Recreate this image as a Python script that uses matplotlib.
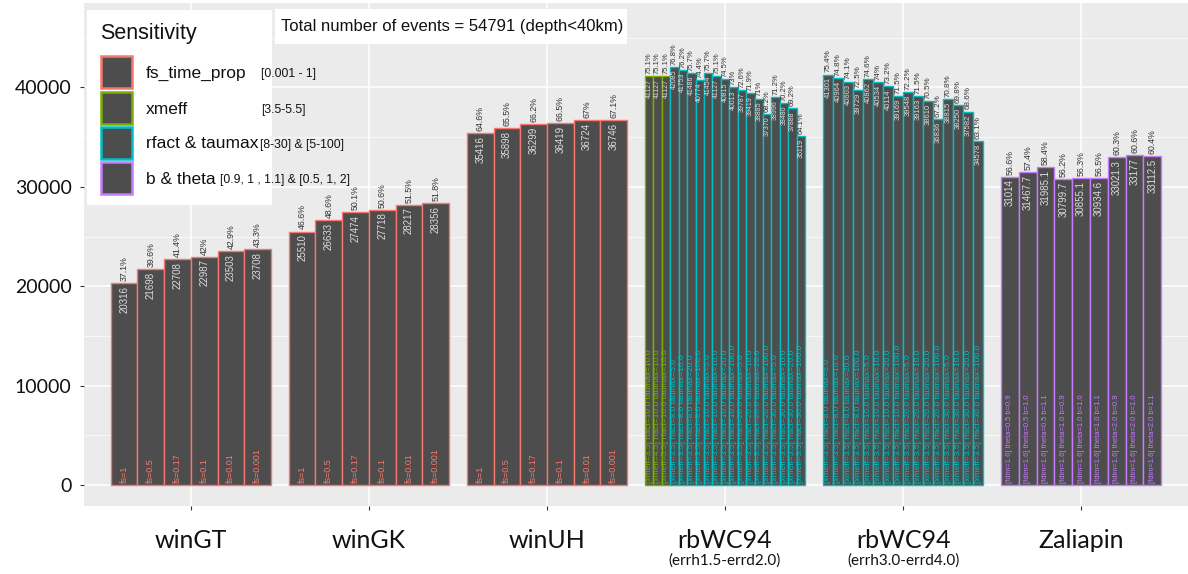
import matplotlib
matplotlib.use("Agg")
import matplotlib.pyplot as plt
from matplotlib.patches import Rectangle

TOTAL_EVENTS = 54791

group_names = ["winGT", "winGK", "winUH", "rbWC94", "rbWC94", "Zaliapin"]
group_notes = ["", "", "", "(errh1.5-errd2.0)", "(errh3.0-errd4.0)", ""]

fs_labels = ["fs=1", "fs=0.5", "fs=0.17", "fs=0.1", "fs=0.01", "fs=0.001"]
wingt_counts = [20316, 21698, 22708, 22987, 23503, 23708]
wingk_counts = [25510, 26633, 27474, 27718, 28217, 28356]
winuh_counts = [35416, 35898, 36299, 36419, 36724, 36746]

xmeff_labels = ["[xmeff=3.5] rfact=10.0 taumax=10.0",
                "[xmeff=4.5] rfact=10.0 taumax=10.0",
                "[xmeff=5.5] rfact=10.0 taumax=10.0"]
rfact_taumax_labels = ["[xmeff=3.5] rfact=8.0 taumax=5.0",
                       "[xmeff=3.5] rfact=8.0 taumax=10.0",
                       "[xmeff=3.5] rfact=8.0 taumax=20.0",
                       "[xmeff=3.5] rfact=8.0 taumax=100.0",
                       "[xmeff=3.5] rfact=10.0 taumax=5.0",
                       "[xmeff=3.5] rfact=10.0 taumax=10.0",
                       "[xmeff=3.5] rfact=10.0 taumax=20.0",
                       "[xmeff=3.5] rfact=10.0 taumax=100.0",
                       "[xmeff=3.5] rfact=20.0 taumax=5.0",
                       "[xmeff=3.5] rfact=20.0 taumax=10.0",
                       "[xmeff=3.5] rfact=20.0 taumax=20.0",
                       "[xmeff=3.5] rfact=20.0 taumax=100.0",
                       "[xmeff=3.5] rfact=30.0 taumax=5.0",
                       "[xmeff=3.5] rfact=30.0 taumax=10.0",
                       "[xmeff=3.5] rfact=30.0 taumax=20.0",
                       "[xmeff=3.5] rfact=30.0 taumax=100.0"]
rb1_xmeff_counts = [41127, 41127, 41127]
rb1_rfact_counts = [42085, 41753, 41486, 40774, 41454, 41127, 40815, 40013,
                    39787, 39419, 38885, 37370, 38996, 38480, 37888, 35119]
rb2_rfact_counts = [41301, 40964, 40603, 39729, 40862, 40534, 40114, 39169,
                    39548, 39163, 38610, 36836, 38815, 38250, 37582, 34578]

zaliapin_labels = ["[fdim=1.6] theta=0.5 b=0.9", "[fdim=1.6] theta=0.5 b=1.0",
                   "[fdim=1.6] theta=0.5 b=1.1", "[fdim=1.6] theta=1.0 b=0.9",
                   "[fdim=1.6] theta=1.0 b=1.0", "[fdim=1.6] theta=1.0 b=1.1",
                   "[fdim=1.6] theta=2.0 b=0.9", "[fdim=1.6] theta=2.0 b=1.0",
                   "[fdim=1.6] theta=2.0 b=1.1"]
zaliapin_counts = [31014, 31467.7, 31985.1, 30799.7, 30855.1, 30934.6,
                   33021.3, 33177, 33112.5]

sens_names = ["fs_time_prop", "xmeff", "rfact & taumax", "b & theta"]
sens_ranges = ["[0.001 - 1]", "[3.5-5.5]", "[8-30] & [5-100]",
               "[0.9, 1 , 1.1] & [0.5, 1, 2]"]
sens_colors = ["#F8766D", "#7CAE00", "#00BFC4", "#C77CFF"]

# (labels, counts, sensitivity index, font sizes: inner label, value, percent)
groups = [
    (fs_labels, wingt_counts, [0] * 6, (6.5, 7.0, 6.3)),
    (fs_labels, wingk_counts, [0] * 6, (6.5, 7.0, 6.3)),
    (fs_labels, winuh_counts, [0] * 6, (6.5, 7.0, 6.3)),
    (xmeff_labels + rfact_taumax_labels, rb1_xmeff_counts + rb1_rfact_counts,
     [1] * 3 + [2] * 16, (6.0, 5.0, 5.5)),
    (rfact_taumax_labels, rb2_rfact_counts, [2] * 16, (6.0, 5.5, 5.8)),
    (zaliapin_labels, zaliapin_counts, [3] * 9, (5.4, 7.0, 6.3)),
]

W, H = 1188, 574
fig = plt.figure(figsize=(W / 100, H / 100), dpi=100)
ax = fig.add_axes([84 / W, 1 - 506 / H, (1188 - 84) / W, (506 - 3) / H])
ax.set_facecolor("#EBEBEB")
for s in ax.spines.values():
    s.set_visible(False)

ax.set_xlim(0.4, 6.6)
ax.set_ylim(-2100, 48500)
ax.set_yticks([0, 10000, 20000, 30000, 40000])
ax.set_yticks(range(5000, 48000, 10000), minor=True)
ax.set_yticklabels(["0", "10000", "20000", "30000", "40000"],
                   fontfamily="Lato", fontsize=14, color="#111111")
ax.set_xticks(range(1, 7))
ax.set_xticklabels([""] * 6)
ax.tick_params(axis="both", which="major", length=3, color="#333333", pad=6)
ax.tick_params(axis="y", which="minor", length=0)
ax.grid(True, which="major", color="white", linewidth=1.1)
ax.grid(True, which="minor", axis="y", color="white", linewidth=0.5)
ax.set_axisbelow(True)

bar_font = "Liberation Sans"
for gi, (labels, counts, sens, sizes) in enumerate(groups):
    n = len(counts)
    bw = 0.9 / n
    lab_fs, val_fs, pct_fs = sizes
    for k in range(n):
        x = gi + 1 - 0.45 + (k + 0.5) * bw
        v = counts[k]
        col = sens_colors[sens[k]]
        ax.bar(x, v, width=bw, color="#4D4D4D", edgecolor=col, linewidth=1.0,
               zorder=2)
        ax.annotate(labels[k], (x, 0), xytext=(0, 1.5), textcoords="offset points",
                    rotation=90, ha="center", va="bottom", color=col,
                    fontsize=lab_fs, fontfamily=bar_font, zorder=3)
        ax.annotate(f"{v:g}", (x, v), xytext=(0, -2), textcoords="offset points",
                    rotation=90, ha="center", va="top", color="#DDDDDD",
                    fontsize=val_fs, fontfamily=bar_font, zorder=3)
        pct = round(v / TOTAL_EVENTS * 100, 1)
        ax.annotate(f"{pct:g}%", (x, v), xytext=(0, 1.5), textcoords="offset points",
                    rotation=90, ha="center", va="bottom", color="#333333",
                    fontsize=pct_fs, fontfamily=bar_font, zorder=3)

# category names under the axis
for gi, (name, note) in enumerate(zip(group_names, group_notes)):
    xf = (84 + (gi + 1 - 0.4) / 6.2 * (1188 - 84)) / W
    fig.text(xf, 1 - 540 / H, name, ha="center", va="center",
             fontfamily="Lato", fontsize=18, color="#111111")
    if note:
        fig.text(xf, 1 - 561 / H, note, ha="center", va="center",
                 fontfamily="Lato", fontsize=11, color="#111111")


def px(x, y):
    return x / W, 1 - y / H


# legend
fig.add_artist(Rectangle(px(87, 205), 185 / W, 195 / H, transform=fig.transFigure,
                         facecolor="white", edgecolor="none", zorder=5))
fig.text(*px(100, 33), "Sensitivity", ha="left", va="center",
         fontfamily=bar_font, fontsize=15.5, color="#111111", zorder=6)
key_tops = [55, 91, 126, 161]
range_x = [261, 261, 260, 220]
for i in range(4):
    top = key_tops[i]
    fig.add_artist(Rectangle(px(101, top + 33), 31 / W, 32 / H,
                             transform=fig.transFigure, facecolor="#4D4D4D",
                             edgecolor=sens_colors[i], linewidth=1.8, zorder=6))
    fig.text(*px(146, top + 18), sens_names[i], ha="left", va="center",
             fontfamily=bar_font, fontsize=12.5, color="#111111", zorder=6)
    fig.text(*px(range_x[i], top + 19), sens_ranges[i], ha="left", va="center",
             fontfamily=bar_font, fontsize=8.8, color="#111111", zorder=7)

# total count box
fig.add_artist(Rectangle(px(275, 44), 352 / W, 35 / H, transform=fig.transFigure,
                         facecolor="white", edgecolor="none", zorder=5))
fig.text(*px(281, 27), "Total number of events = %d (depth<40km)" % TOTAL_EVENTS,
         ha="left", va="center", fontfamily=bar_font, fontsize=12,
         color="#111111", zorder=6)

fig.savefig("out.png", dpi=100)
